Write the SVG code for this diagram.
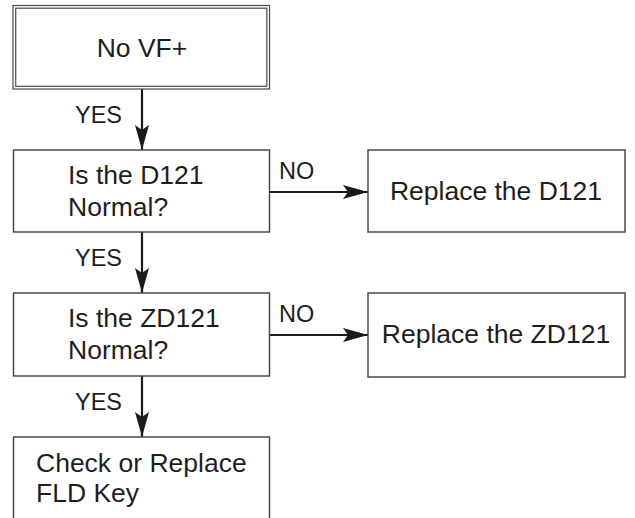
<svg xmlns="http://www.w3.org/2000/svg" width="635" height="518" viewBox="0 0 635 518">
  <style>
    .box { fill: #ffffff; stroke: #4a4a4a; stroke-width: 1.5; }
    .thin { fill: none; stroke: #4a4a4a; stroke-width: 1.2; }
    .t { font-family: "Liberation Sans", Arial, sans-serif; font-size: 26.5px; fill: #1e1e1e; }
    .lbl { font-family: "Liberation Sans", Arial, sans-serif; font-size: 23.5px; fill: #1e1e1e; }
    .wire { fill: none; stroke: #1a1a1a; stroke-width: 2.2; }
  </style>
  <defs>
    <marker id="arrow" viewBox="0 0 25 14" refX="25" refY="7" markerWidth="25" markerHeight="14" markerUnits="userSpaceOnUse" orient="auto">
      <path d="M0,0 L25,7 L0,14 L5,7 Z" fill="#1a1a1a"/>
    </marker>
  </defs>
  <rect width="635" height="518" fill="#ffffff"/>

  <g id="connectors">
    <line class="wire" x1="142" y1="89" x2="142" y2="150" marker-end="url(#arrow)"/>
    <line class="wire" x1="142" y1="232" x2="142" y2="293" marker-end="url(#arrow)"/>
    <line class="wire" x1="142" y1="376" x2="142" y2="437" marker-end="url(#arrow)"/>
    <line class="wire" x1="270" y1="192" x2="368" y2="192" marker-end="url(#arrow)"/>
    <line class="wire" x1="270" y1="335" x2="368" y2="335" marker-end="url(#arrow)"/>
    <text class="lbl" x="75" y="123">YES</text>
    <text class="lbl" x="75" y="266">YES</text>
    <text class="lbl" x="75" y="410">YES</text>
    <text class="lbl" x="279" y="179">NO</text>
    <text class="lbl" x="279" y="322">NO</text>
  </g>

  <g id="start">
    <rect class="thin" x="13" y="5.5" width="256.5" height="83.5"/>
    <rect class="thin" x="15.7" y="8.2" width="251.1" height="78.1"/>
    <text class="t" x="142" y="57" text-anchor="middle">No VF+</text>
  </g>

  <g id="check-d121">
    <rect class="box" x="13.5" y="150" width="256" height="82"/>
    <text class="t" x="68" y="184">Is the D121</text>
    <text class="t" x="68" y="216">Normal?</text>
  </g>

  <g id="replace-d121">
    <rect class="box" x="368" y="150" width="257" height="82"/>
    <text class="t" x="496" y="200" text-anchor="middle">Replace the D121</text>
  </g>

  <g id="check-zd121">
    <rect class="box" x="13.5" y="293" width="256" height="83"/>
    <text class="t" x="68" y="327">Is the ZD121</text>
    <text class="t" x="68" y="359">Normal?</text>
  </g>

  <g id="replace-zd121">
    <rect class="box" x="368" y="293" width="257" height="84"/>
    <text class="t" x="496" y="343" text-anchor="middle">Replace the ZD121</text>
  </g>

  <g id="check-fld-key">
    <rect class="box" x="13.5" y="437" width="256" height="100"/>
    <text class="t" x="36" y="472">Check or Replace</text>
    <text class="t" x="36" y="502">FLD Key</text>
  </g>
</svg>
